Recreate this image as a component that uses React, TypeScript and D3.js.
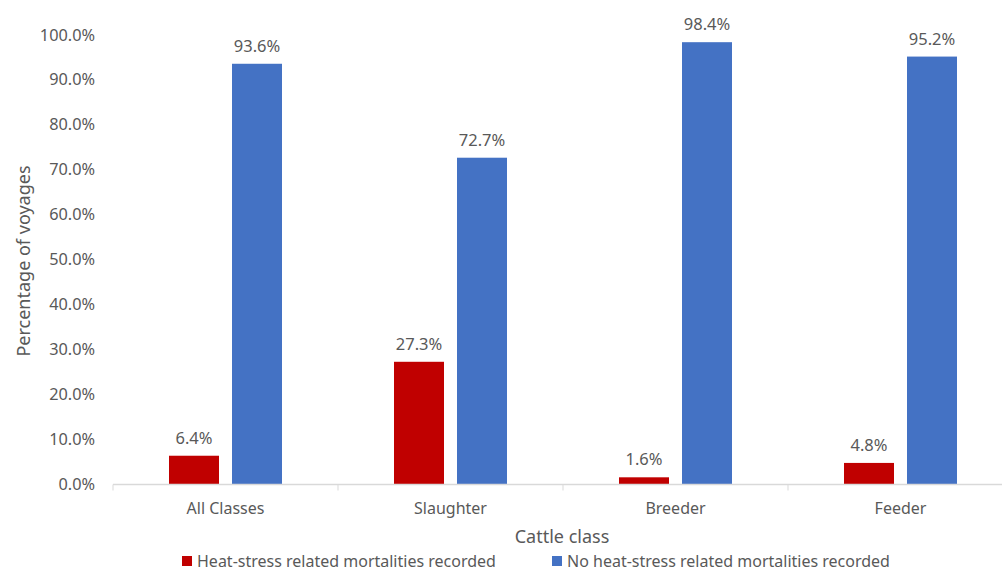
import * as d3 from "d3";
import React, { useEffect, useRef } from "react";

// cattle class breakdown of voyages
const categories = ["All Classes", "Slaughter", "Breeder", "Feeder"];
const heatStress = [6.4, 27.3, 1.6, 4.8];
const noHeatStress = [93.6, 72.7, 98.4, 95.2];
const seriesNames = [
  "Heat-stress related mortalities recorded",
  "No heat-stress related mortalities recorded",
];
const yTicks = [0, 10, 20, 30, 40, 50, 60, 70, 80, 90, 100];

const App: React.FC = () => {
  const ref = useRef<SVGSVGElement | null>(null);
  const width = 1002;
  const height = 572;

  useEffect(() => {
    if (!ref.current) return;
    const svg = d3.select(ref.current);
    svg.selectAll("*").remove();

    const font = "'Noto Sans', sans-serif";
    const textColor = "#595959";
    const colors = ["#c00000", "#4472c4"];

    const margin = { top: 35, left: 113, bottom: 88 };
    const innerH = height - margin.top - margin.bottom;
    const bandW = 225;

    const x = d3
      .scaleBand()
      .domain(categories)
      .range([margin.left, margin.left + bandW * categories.length])
      .paddingInner(0)
      .paddingOuter(0);

    const y = d3
      .scaleLinear()
      .domain([0, 100])
      .range([margin.top + innerH + 0.5, margin.top]);

    const barW = 50;
    const gap = 13;

    const series = [heatStress, noHeatStress];

    // bars + value labels
    series.forEach((vals, si) => {
      const barX = (i: number) => {
        const c = x(categories[i])! + x.bandwidth() / 2;
        return si === 0 ? c - gap / 2 - barW : c + gap / 2;
      };

      svg
        .append("g")
        .selectAll("rect")
        .data(vals)
        .enter()
        .append("rect")
        .attr("x", (_d, i) => barX(i))
        .attr("y", (d) => y(d))
        .attr("width", barW)
        .attr("height", (d) => y(0) - y(d))
        .attr("fill", colors[si]);

      svg
        .append("g")
        .selectAll("text")
        .data(vals)
        .enter()
        .append("text")
        .attr("x", (_d, i) => barX(i) + barW / 2)
        .attr("y", (d) => y(d) - 12)
        .attr("text-anchor", "middle")
        .style("font-family", font)
        .style("font-size", "16.5px")
        .attr("fill", textColor)
        .text((d) => d.toFixed(1) + "%");
    });

    // x axis line + ticks
    const axisY = y(0);
    svg
      .append("line")
      .attr("x1", margin.left)
      .attr("x2", margin.left + bandW * categories.length)
      .attr("y1", axisY)
      .attr("y2", axisY)
      .attr("stroke", "#d9d9d9")
      .attr("stroke-width", 1.5);

    const tickXs = d3.range(categories.length + 1).map((i) => margin.left + i * bandW);
    svg
      .append("g")
      .selectAll("line")
      .data(tickXs)
      .enter()
      .append("line")
      .attr("x1", (d) => d)
      .attr("x2", (d) => d)
      .attr("y1", axisY)
      .attr("y2", axisY + 6)
      .attr("stroke", "#d9d9d9")
      .attr("stroke-width", 1);

    // category labels
    svg
      .append("g")
      .selectAll("text")
      .data(categories)
      .enter()
      .append("text")
      .attr("x", (d) => x(d)! + x.bandwidth() / 2)
      .attr("y", 514)
      .attr("text-anchor", "middle")
      .style("font-family", font)
      .style("font-size", "16px")
      .attr("fill", textColor)
      .text((d) => d);

    // y tick labels
    svg
      .append("g")
      .selectAll("text")
      .data(yTicks)
      .enter()
      .append("text")
      .attr("x", 95)
      .attr("y", (d) => y(d) + 5.5)
      .attr("text-anchor", "end")
      .style("font-family", font)
      .style("font-size", "16.3px")
      .attr("fill", textColor)
      .text((d) => d.toFixed(1) + "%");

    // axis titles
    svg
      .append("text")
      .attr("transform", `translate(30,261) rotate(-90)`)
      .attr("text-anchor", "middle")
      .style("font-family", font)
      .style("font-size", "18px")
      .attr("fill", textColor)
      .text("Percentage of voyages");

    svg
      .append("text")
      .attr("x", 562)
      .attr("y", 543)
      .attr("text-anchor", "middle")
      .style("font-family", font)
      .style("font-size", "18px")
      .attr("fill", textColor)
      .text("Cattle class");

    // legend
    const legendX = [182, 552];
    seriesNames.forEach((name, i) => {
      const g = svg.append("g").attr("transform", `translate(${legendX[i]},556)`);
      g.append("rect").attr("width", 10).attr("height", 10).attr("fill", colors[i]);
      g.append("text")
        .attr("x", 15)
        .attr("y", 10.5)
        .style("font-family", font)
        .style("font-size", "16px")
        .attr("fill", textColor)
        .text(name);
    });
  }, []);

  return (
    <svg
      ref={ref}
      width={width}
      height={height}
      style={{ position: "absolute", left: 0, top: 0, background: "#fff" }}
    ></svg>
  );
};

export default App;
